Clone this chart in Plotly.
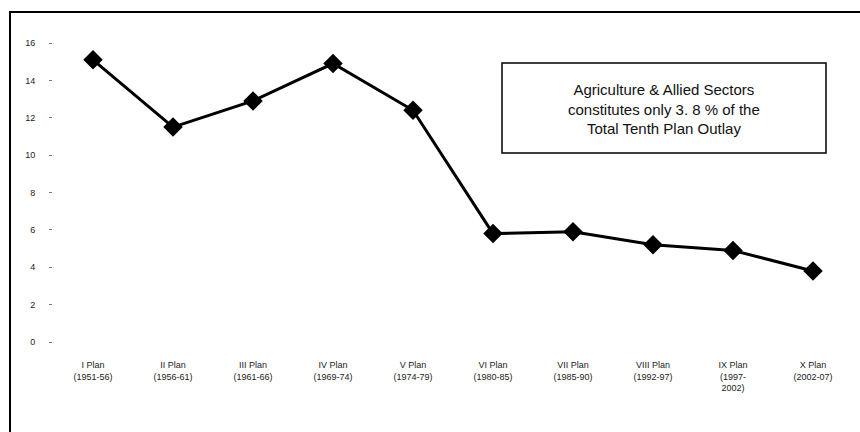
import plotly.graph_objects as go

# Share of agriculture & allied sectors in total plan outlay (%)
plans = [
    "I Plan<br>(1951-56)",
    "II Plan<br>(1956-61)",
    "III Plan<br>(1961-66)",
    "IV Plan<br>(1969-74)",
    "V Plan<br>(1974-79)",
    "VI Plan<br>(1980-85)",
    "VII Plan<br>(1985-90)",
    "VIII Plan<br>(1992-97)",
    "IX Plan<br>(1997-<br>2002)",
    "X Plan<br>(2002-07)",
]
share = [15.1, 11.5, 12.9, 14.9, 12.4, 5.8, 5.9, 5.2, 4.9, 3.8]
y_ticks = [0, 2, 4, 6, 8, 10, 12, 14, 16]

W, H = 860, 432
L, R, T, B = 53, 7, 43, 90
pw, ph = W - L - R, H - T - B


def px(x):
    return (x - L) / pw


def py(y):
    return (H - B - y) / ph


fig = go.Figure(
    go.Scatter(
        x=list(range(len(plans))),
        y=share,
        mode="lines+markers",
        line=dict(color="black", width=3),
        marker=dict(symbol="diamond", size=15, color="black"),
        hoverinfo="x+y",
    )
)

fig.update_layout(
    width=W,
    height=H,
    margin=dict(l=L, r=R, t=T, b=B),
    paper_bgcolor="white",
    plot_bgcolor="white",
    showlegend=False,
    font=dict(family="Liberation Sans, Arial, sans-serif", size=9, color="#222"),
    xaxis=dict(
        range=[-0.5, len(plans) - 0.5],
        tickmode="array",
        tickvals=list(range(len(plans))),
        ticktext=plans,
        showgrid=False,
        zeroline=False,
        showline=False,
        ticks="",
        ticklabelstandoff=16,
        tickfont=dict(size=9, color="#222"),
    ),
    yaxis=dict(
        range=[0, 16],
        tickmode="array",
        tickvals=y_ticks,
        ticktext=[str(v) for v in y_ticks],
        showgrid=False,
        zeroline=False,
        showline=False,
        ticks="outside",
        ticklen=3,
        tickcolor="#777",
        ticklabelstandoff=12,
        tickfont=dict(size=9, color="#222"),
    ),
    shapes=[
        # outer chart frame
        dict(
            type="rect", xref="paper", yref="paper",
            x0=px(10), x1=px(875), y0=py(12), y1=py(450),
            line=dict(color="black", width=2), layer="below",
        ),
        # callout box
        dict(
            type="rect", xref="paper", yref="paper",
            x0=px(502), x1=px(826), y0=py(153), y1=py(63),
            line=dict(color="black", width=1.5), fillcolor="white",
        ),
    ],
    annotations=[
        dict(
            xref="paper", yref="paper",
            x=px(664), y=py(109),
            xanchor="center", yanchor="middle",
            text="Agriculture & Allied Sectors<br>constitutes only 3. 8 % of the<br>Total Tenth Plan Outlay",
            showarrow=False,
            align="center",
            font=dict(family="Liberation Sans, Arial, sans-serif", size=15, color="#111"),
        )
    ],
)

fig.write_html("out.html")
